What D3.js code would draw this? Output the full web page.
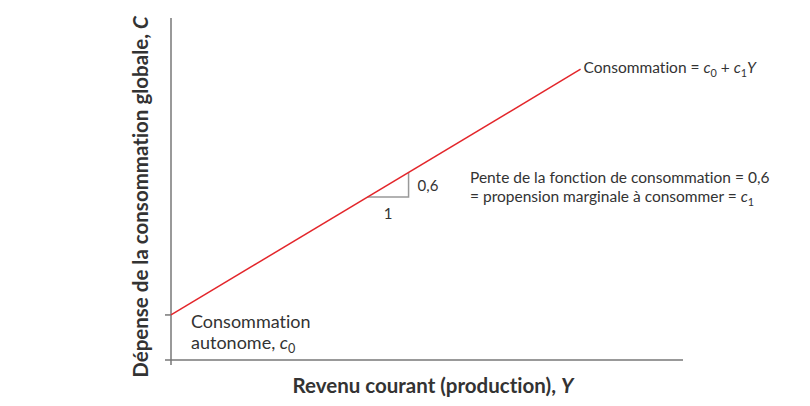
<!DOCTYPE html>
<html><head><meta charset="utf-8">
<script src="https://cdn.jsdelivr.net/npm/d3@7"></script>
<style>
body{margin:0;background:#fff;}
text{font-family:Lato,"Open Sans",sans-serif;fill:#333;font-variant-ligatures:none;font-feature-settings:"liga" 0,"dlig" 0;}
</style></head>
<body><svg id="chart" width="810" height="406"></svg>
<script>
// Data (model units)
const c0 = 1.1;          // autonomous consumption
const c1 = 0.6;          // marginal propensity to consume
const lineX = [0, 10];   // income range of the consumption line
const triX = [4.8, 5.8]; // slope triangle
const xDomain = [0, 12.5];
const yDomain = [0, 8.35];

const svg = d3.select("#chart");
const x = d3.scaleLinear().domain(xDomain).range([171, 683]);
const y = d3.scaleLinear().domain(yDomain).range([360, 18]);
const C = v => c0 + c1 * v;

// axes
svg.append("line").attr("x1", x(0)).attr("x2", x(0)).attr("y1", y(yDomain[1])).attr("y2", y(0) + 5)
  .attr("stroke", "#777").attr("stroke-width", 1.5);
svg.append("line").attr("x1", x(0) - 6).attr("x2", x(xDomain[1])).attr("y1", y(0)).attr("y2", y(0))
  .attr("stroke", "#777").attr("stroke-width", 1.5);
// tick at c0
svg.append("line").attr("x1", x(0) - 6).attr("x2", x(0)).attr("y1", y(c0)).attr("y2", y(c0))
  .attr("stroke", "#777").attr("stroke-width", 1.5);

// slope triangle
svg.append("path")
  .attr("d", d3.line()([[x(triX[0]), y(C(triX[0]))], [x(triX[1]), y(C(triX[0]))], [x(triX[1]), y(C(triX[1]))]]))
  .attr("fill", "none").attr("stroke", "#999").attr("stroke-width", 1.5);

// consumption line
svg.append("path")
  .attr("d", d3.line().x(d => x(d)).y(d => y(C(d)))(lineX))
  .attr("fill", "none").attr("stroke", "#e3262b").attr("stroke-width", 1.5);

// labels
let t = svg.append("text").attr("x", x(lineX[1]) + 3).attr("y", 73).attr("font-size", 15.5);
t.append("tspan").text("Consommation = ");
t.append("tspan").attr("font-style", "italic").text("c");
t.append("tspan").attr("font-size", "0.7em").attr("dy", 4).text("0");
t.append("tspan").attr("dy", -4).text(" + ");
t.append("tspan").attr("font-style", "italic").text("c");
t.append("tspan").attr("font-size", "0.7em").attr("dy", 4).text("1");
t.append("tspan").attr("dy", -4).attr("font-style", "italic").text("Y");

svg.append("text").attr("x", 470).attr("y", 183).attr("font-size", 15.5)
  .text("Pente de la fonction de consommation = 0,6");
t = svg.append("text").attr("x", 470).attr("y", 202).attr("font-size", 15.5);
t.append("tspan").text("= propension marginale à consommer = ");
t.append("tspan").attr("font-style", "italic").text("c");
t.append("tspan").attr("font-size", "0.7em").attr("dy", 4).text("1");

svg.append("text").attr("x", x(triX[1]) + 9).attr("y", 191).attr("font-size", 15).text("0,6");
svg.append("text").attr("x", x((triX[0] + triX[1]) / 2)).attr("y", 219).attr("font-size", 15)
  .attr("text-anchor", "middle").text("1");

svg.append("text").attr("x", 191).attr("y", 328).attr("font-size", 18).text("Consommation");
t = svg.append("text").attr("x", 191).attr("y", 349).attr("font-size", 18);
t.append("tspan").text("autonome, ");
t.append("tspan").attr("font-style", "italic").text("c");
t.append("tspan").attr("font-size", "0.7em").attr("dy", 4).text("0");

// axis titles
t = svg.append("text").attr("x", 433).attr("y", 393).attr("text-anchor", "middle")
  .attr("font-size", 20.5).attr("font-weight", "bold");
t.append("tspan").text("Revenu courant (production), ");
t.append("tspan").attr("font-style", "italic").text("Y");

t = svg.append("text").attr("transform", "translate(148,197) rotate(-90)").attr("text-anchor", "middle")
  .attr("font-size", 20.5).attr("font-weight", "bold");
t.append("tspan").text("Dépense de la consommation globale, ");
t.append("tspan").attr("font-style", "italic").text("C");
</script></body></html>
